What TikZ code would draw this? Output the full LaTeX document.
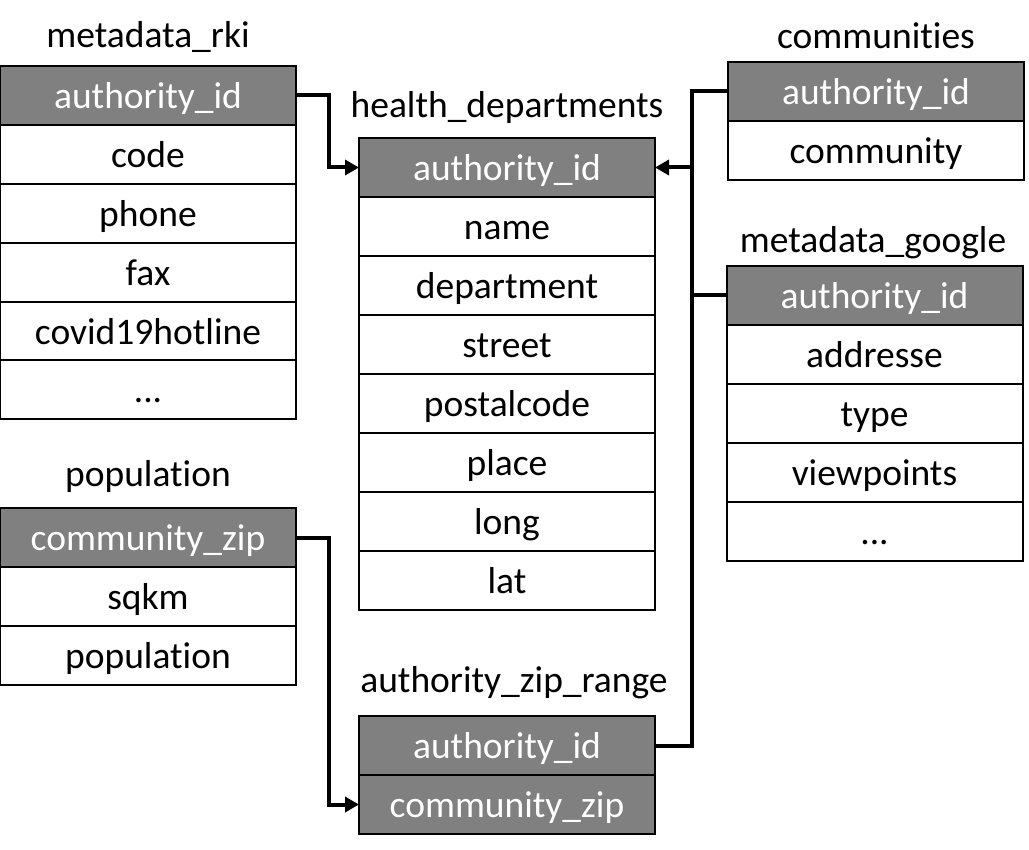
\documentclass[tikz,border=0pt]{standalone}
\usepackage{fontspec}
\setmainfont{Carlito}[Ligatures=NoCommon]
\usetikzlibrary{arrows.meta}
\definecolor{hdrgray}{RGB}{128,128,128}
\tikzset{
  cell/.style={draw=black, line width=2pt, fill=white, minimum width=296pt, minimum height=59pt, inner sep=0pt, outer sep=0pt, text height=30pt, text depth=4pt, font=\fontsize{37.5}{42}\selectfont, text=black},
  hdr/.style={cell, fill=hdrgray, text=white},
  ttl/.style={inner sep=0pt, font=\fontsize{37.5}{42}\selectfont, anchor=base},
  link/.style={line width=4pt, draw=black},
  conn/.style={link, -{Triangle[length=14pt,width=15pt]}}
}
\begin{document}
\begin{tikzpicture}[x=1pt,y=-1pt]
\useasboundingbox (0,0) rectangle (1029,850);
% metadata_rki
\node[ttl] (trki) at (148,48) {metadata\_rki};
\node[hdr] (rki0) at (148,95.5) {authority\_id};
\node[cell] (rki1) at (148,154.5) {code};
\node[cell] (rki2) at (148,213.5) {phone};
\node[cell] (rki3) at (148,272.5) {fax};
\node[cell] (rki4) at (148,331.5) {covid19hotline};
\node[cell] (rki5) at (148,390) {...};
% population
\node[ttl] (tpop) at (148,486) {population};
\node[hdr] (pop0) at (148,537.5) {community\_zip};
\node[cell] (pop1) at (148,596.5) {sqkm};
\node[cell] (pop2) at (148,655.5) {population};
% health_departments
\node[ttl] (thd) at (507,118) {health\_departments};
\node[hdr] (hd0) at (507,167.5) {authority\_id};
\node[cell] (hd1) at (507,226.5) {name};
\node[cell] (hd2) at (507,285.5) {department};
\node[cell] (hd3) at (507,344.5) {street};
\node[cell] (hd4) at (507,403.5) {postalcode};
\node[cell] (hd5) at (507,462.5) {place};
\node[cell] (hd6) at (507,521.5) {long};
\node[cell] (hd7) at (507,580.5) {lat};
% authority_zip_range
\node[ttl] (tazr) at (514,692) {authority\_zip\_range};
\node[hdr] (azr0) at (507,745.5) {authority\_id};
\node[hdr] (azr1) at (507,804.5) {community\_zip};
% communities
\node[ttl] (tcom) at (876,49) {communities};
\node[hdr] (com0) at (876,91.5) {authority\_id};
\node[cell] (com1) at (876,150.5) {community};
% metadata_google
\node[ttl] (tmg) at (873,253) {metadata\_google};
\node[hdr] (mg0) at (874.5,295.5) {authority\_id};
\node[cell] (mg1) at (874.5,354.5) {addresse};
\node[cell] (mg2) at (874.5,413.5) {type};
\node[cell] (mg3) at (874.5,472.5) {viewpoints};
\node[cell] (mg4) at (874.5,531.5) {...};
% connectors
\coordinate (j) at (692,167.5);
\draw[conn] (rki0.east) -- ++(33,0) |- (hd0.west);
\draw[link] (com0.west) -| (j);
\draw[link] (mg0.west) -| (j);
\draw[link] (azr0.east) -| (j);
\draw[conn] (j) -- (hd0.east);
\draw[conn] (pop0.east) -- ++(33,0) |- (azr1.west);
\end{tikzpicture}
\end{document}
